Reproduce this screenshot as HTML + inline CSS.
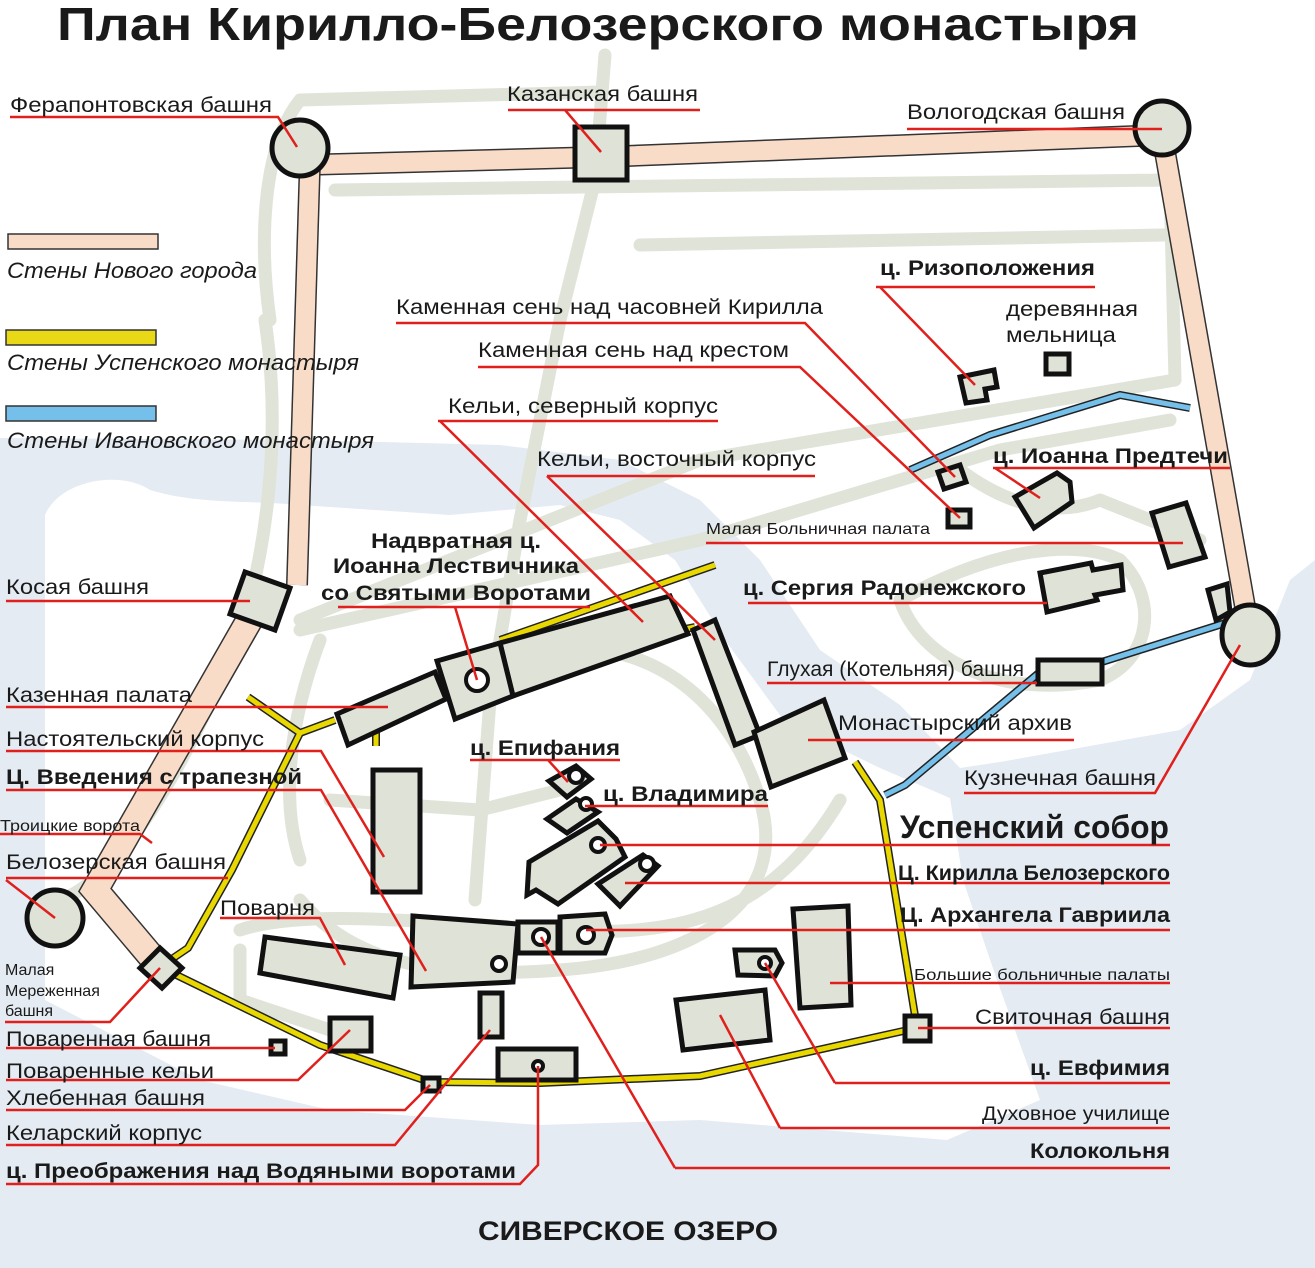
<!DOCTYPE html>
<html><head><meta charset="utf-8"><style>
html,body{margin:0;padding:0;background:#fff;}
svg{display:block;}
text{font-family:"Liberation Sans",sans-serif;fill:#1a1a1a;}
.b{font-weight:bold;}
.i{font-style:italic;}
.r{stroke:#e0201c;stroke-width:2.5;fill:none;}
.bd{fill:#dfe2d6;stroke:#111;stroke-width:5;stroke-linejoin:miter;}
.rd{fill:none;stroke:#dfe3d8;stroke-width:13;stroke-linecap:round;stroke-linejoin:round;}
</style></head><body>
<svg width="1315" height="1268" viewBox="0 0 1315 1268" xmlns="http://www.w3.org/2000/svg">
<!-- water -->
<rect x="0" y="0" width="1315" height="1268" fill="#e4ebf3"/>
<g fill="#fff">
<path d="M0,0 L1315,0 L1315,560 L1290,580 L1250,680 L1180,730 L1000,762 L960,768 L900,705 L820,650 L760,560 L700,500 L620,460 L500,445 L300,440 L0,438 Z"/>
<path d="M45,515 C60,480 120,470 150,490 C200,505 250,500 300,505 L450,515 L560,505 L620,520 L675,560 L725,640 L785,722 L880,768 L950,798 L963,880 L997,980 L1040,1100 L947,1140 L700,1120 L540,1125 L330,1110 L200,1080 L45,1000 Z"/>
</g>
<!-- roads -->
<g class="rd">
<path d="M605,55 L595,180 L560,320 L520,520 L490,700 L475,900"/>
<path d="M270,320 C260,250 260,150 300,100 L600,92"/>
<path d="M265,320 C280,420 270,520 250,600 C200,750 120,880 60,900"/>
<path d="M335,190 L1170,180 L1175,380 L700,460 L300,620"/>
<path d="M640,245 L1165,235"/>
<path d="M300,630 L700,540 L1000,450 L1170,420"/>
<path d="M320,640 C290,720 280,800 300,860"/>
<path d="M560,650 C650,640 730,700 760,800 C790,900 700,960 560,970 C430,980 350,960 300,900"/>
<path d="M240,930 C300,910 400,920 560,930 C700,940 780,900 840,800"/>
<path d="M900,600 C920,660 1000,700 1100,680 C1150,660 1160,600 1120,560 C1080,540 1000,545 900,600"/>
<path d="M330,800 L480,810 L560,790"/>
<path d="M240,950 L240,1000 L330,1030"/>
<path d="M960,470 C1000,500 1050,520 1100,500 L1200,540"/>
</g>
<!-- pink walls -->
<g stroke-linejoin="miter" fill="none">
<path d="M300,165 L601,157 L1162,135 L1250,635" stroke="#333" stroke-width="22"/>
<path d="M300,165 L601,157 L1162,135 L1250,635" stroke="#f9dcc8" stroke-width="19"/>
<path d="M310,160 L297,585" stroke="#333" stroke-width="22"/>
<path d="M310,160 L297,585" stroke="#f9dcc8" stroke-width="19"/>
<path d="M262,598 L95,890 L160,967" stroke="#333" stroke-width="28"/>
<path d="M262,598 L95,890 L160,967" stroke="#f9dcc8" stroke-width="25"/>
</g>
<!-- yellow walls -->
<g fill="none" stroke-linejoin="miter">
<g stroke="#222" stroke-width="8">
<path d="M715,565 L500,640"/>
<path d="M248,697 L300,733 L335,720"/>
<path d="M300,733 L232,870 L188,948 L160,967"/>
<path d="M160,967 L320,1045 L430,1082 L540,1083 L700,1076 L917,1028 L880,800 L855,762"/>
<path d="M376,732 L376,746"/>
<path d="M680,630 L695,627"/>
</g>
<g stroke="#e8d800" stroke-width="5">
<path d="M715,565 L500,640"/>
<path d="M248,697 L300,733 L335,720"/>
<path d="M300,733 L232,870 L188,948 L160,967"/>
<path d="M160,967 L320,1045 L430,1082 L540,1083 L700,1076 L917,1028 L880,800 L855,762"/>
<path d="M376,732 L376,746"/>
<path d="M680,630 L695,627"/>
</g>
</g>
<!-- blue walls -->
<g fill="none">
<g stroke="#222" stroke-width="8">
<path d="M910,470 L990,435 L1120,395 L1190,408"/>
<path d="M1070,672 L1235,620"/>
<path d="M885,795 L905,785 L1040,672"/>
</g>
<g stroke="#74c0ea" stroke-width="5">
<path d="M910,470 L990,435 L1120,395 L1190,408"/>
<path d="M1070,672 L1235,620"/>
<path d="M885,795 L905,785 L1040,672"/>
</g>
</g>
<!-- towers -->
<g class="bd">
<circle cx="300" cy="148" r="28"/>
<circle cx="1162" cy="128" r="27"/>
<ellipse cx="1250" cy="635" rx="28" ry="30"/>
<circle cx="55" cy="918" r="28"/>
<rect x="575" y="127" width="52" height="53"/>
<polygon points="245,572 290,588 275,630 230,614"/>
<polygon points="160,948 182,968 162,988 140,968"/>
<rect x="271" y="1041" width="14" height="13"/>
<rect x="423" y="1078" width="16" height="13"/>
<rect x="905" y="1016" width="25" height="25"/>
<!-- buildings -->
<polygon points="500,643 670,596 688,634 513,696"/>
<polygon points="437,661 500,643 513,696 455,719"/>
<polygon points="337,714 435,672 446,699 348,745"/>
<rect x="373" y="770" width="47" height="122"/>
<polygon points="265,937 400,955 393,998 260,973"/>
<polygon points="413,916 518,924 513,982 411,987"/>
<rect x="518" y="922" width="40" height="31"/>
<polygon points="560,917 605,914 612,935 605,953 560,953"/>
<rect x="480" y="993" width="22" height="44"/>
<rect x="330" y="1018" width="41" height="33"/>
<rect x="498" y="1049" width="78" height="31"/>
<polygon points="693,630 715,620 760,735 735,745"/>
<polygon points="754,732 824,700 845,758 771,787"/>
<rect x="1038" y="660" width="64" height="24"/>
<polygon points="1040,573 1091,563 1093,570 1121,565 1123,590 1095,595 1097,600 1047,612"/>
<polygon points="1152,513 1186,503 1205,557 1169,567"/>
<polygon points="1208,590 1227,584 1230,612 1216,620"/>
<polygon points="1015,497 1057,473 1070,482 1072,502 1034,528"/>
<rect x="948" y="510" width="22" height="17"/>
<polygon points="938,472 960,465 966,482 944,489"/>
<polygon points="960,377 994,370 997,387 985,389 987,400 966,403"/>
<rect x="1046" y="354" width="23" height="20"/>
<polygon points="549,781 576,766 591,779 567,797"/>
<polygon points="547,819 576,799 598,812 567,833"/>
<polygon points="529,862 598,821 616,839 625,857 558,904 536,890 527,895"/>
<polygon points="598,884 643,855 658,866 620,906"/>
<polygon points="793,909 848,906 851,1005 800,1008"/>
<polygon points="735,950 775,950 782,963 775,976 738,975"/>
<polygon points="676,1000 765,990 770,1040 683,1050"/>
</g>
<g fill="#fff" stroke="#111" stroke-width="4">
<circle cx="477" cy="680" r="11"/>
<circle cx="541" cy="937" r="8"/>
<circle cx="586" cy="935" r="8"/>
<circle cx="538" cy="1066" r="5"/>
<circle cx="576" cy="776" r="7"/>
<circle cx="586" cy="804" r="6"/>
<circle cx="598" cy="845" r="7"/>
<circle cx="647" cy="864" r="7"/>
<circle cx="765" cy="963" r="6"/>
<circle cx="499" cy="964" r="7"/>
</g>
<!-- legend -->
<rect x="8" y="234" width="150" height="15" fill="#f9dcc8" stroke="#333" stroke-width="1.5"/>
<rect x="6" y="330" width="150" height="15" fill="#e8d816" stroke="#333" stroke-width="1.5"/>
<rect x="6" y="406" width="150" height="15" fill="#74c0ea" stroke="#333" stroke-width="1.5"/>
<g class="i" font-size="22">
<text x="7" y="278" textLength="250" lengthAdjust="spacingAndGlyphs">Стены Нового города</text>
<text x="7" y="370" textLength="352" lengthAdjust="spacingAndGlyphs">Стены Успенского монастыря</text>
<text x="7" y="448" textLength="367" lengthAdjust="spacingAndGlyphs">Стены Ивановского монастыря</text>
</g>
<!-- leader lines -->
<g class="r">
<path d="M10,117 L278,117 L297,147"/>
<path d="M508,110 L700,110 M565,110 L601,152"/>
<path d="M907,129 L1162,129"/>
<path d="M876,287 L1095,287 M880,287 L975,385"/>
<path d="M396,323 L805,323 L955,477"/>
<path d="M478,367 L800,367 L960,518"/>
<path d="M438,421 L718,421 M440,421 L643,622"/>
<path d="M547,476 L815,476 M547,476 L715,640"/>
<path d="M993,468 L1230,468 M995,468 L1040,498"/>
<path d="M706,543 L1183,543"/>
<path d="M338,607 L590,607 M455,607 L477,680"/>
<path d="M748,603 L1047,603"/>
<path d="M6,601 L250,601"/>
<path d="M767,683 L1037,683"/>
<path d="M6,707 L388,707"/>
<path d="M808,740 L1074,740"/>
<path d="M6,751 L321,751 L384,857"/>
<path d="M470,760 L620,760 M548,760 L568,782"/>
<path d="M6,790 L321,790 L426,971"/>
<path d="M964,793 L1155,793 L1240,645"/>
<path d="M585,806 L768,806"/>
<path d="M600,845 L1170,845"/>
<path d="M0,834 L140,834 L152,843"/>
<path d="M625,883 L1170,883"/>
<path d="M6,878 L228,878 M6,880 L55,918"/>
<path d="M220,918 L320,918 L345,965"/>
<path d="M586,930 L1170,930"/>
<path d="M5,1022 L110,1022 L160,968"/>
<path d="M830,983 L1170,983"/>
<path d="M918,1028 L1170,1028"/>
<path d="M6,1048 L275,1048"/>
<path d="M6,1080 L298,1080 L350,1030"/>
<path d="M835,1083 L1170,1083 M835,1083 L765,963"/>
<path d="M6,1110 L405,1110 L430,1085"/>
<path d="M780,1128 L1170,1128 M780,1128 L720,1015"/>
<path d="M6,1145 L395,1145 L490,1030"/>
<path d="M675,1168 L1170,1168 M675,1168 L541,937"/>
<path d="M6,1184 L520,1184 L538,1165 L538,1066"/>
</g>
<!-- labels -->
<text x="57" y="40" class="b" font-size="46" textLength="1082" lengthAdjust="spacingAndGlyphs">План Кирилло-Белозерского монастыря</text>
<g font-size="21">
<text x="10" y="112" textLength="262" lengthAdjust="spacingAndGlyphs">Ферапонтовская башня</text>
<text x="507" y="101" textLength="191" lengthAdjust="spacingAndGlyphs">Казанская башня</text>
<text x="907" y="119" textLength="218" lengthAdjust="spacingAndGlyphs">Вологодская башня</text>
<text x="1006" y="316" textLength="132" lengthAdjust="spacingAndGlyphs">деревянная</text>
<text x="1006" y="342" textLength="110" lengthAdjust="spacingAndGlyphs">мельница</text>
<text x="396" y="314" textLength="427" lengthAdjust="spacingAndGlyphs">Каменная сень над часовней Кирилла</text>
<text x="478" y="357" textLength="311" lengthAdjust="spacingAndGlyphs">Каменная сень над крестом</text>
<text x="448" y="413" textLength="270" lengthAdjust="spacingAndGlyphs">Кельи, северный корпус</text>
<text x="537" y="466" textLength="279" lengthAdjust="spacingAndGlyphs">Кельи, восточный корпус</text>
<text x="6" y="594" textLength="143" lengthAdjust="spacingAndGlyphs">Косая башня</text>
<text x="767" y="676" textLength="257" lengthAdjust="spacingAndGlyphs">Глухая (Котельняя) башня</text>
<text x="6" y="702" textLength="186" lengthAdjust="spacingAndGlyphs">Казенная палата</text>
<text x="838" y="730" textLength="234" lengthAdjust="spacingAndGlyphs">Монастырский архив</text>
<text x="6" y="746" textLength="258" lengthAdjust="spacingAndGlyphs">Настоятельский корпус</text>
<text x="964" y="785" textLength="192" lengthAdjust="spacingAndGlyphs">Кузнечная башня</text>
<text x="6" y="869" textLength="220" lengthAdjust="spacingAndGlyphs">Белозерская башня</text>
<text x="220" y="915" textLength="95" lengthAdjust="spacingAndGlyphs">Поварня</text>
<text x="975" y="1024" textLength="195" lengthAdjust="spacingAndGlyphs">Свиточная башня</text>
<text x="6" y="1046" textLength="205" lengthAdjust="spacingAndGlyphs">Поваренная башня</text>
<text x="6" y="1078" textLength="208" lengthAdjust="spacingAndGlyphs">Поваренные кельи</text>
<text x="6" y="1105" textLength="199" lengthAdjust="spacingAndGlyphs">Хлебенная башня</text>
<text x="6" y="1140" textLength="196" lengthAdjust="spacingAndGlyphs">Келарский корпус</text>
</g>
<g font-size="16">
<text x="706" y="534" textLength="224" lengthAdjust="spacingAndGlyphs">Малая Больничная палата</text>
<text x="0" y="831" textLength="140" lengthAdjust="spacingAndGlyphs">Троицкие ворота</text>
<text x="5" y="975">Малая</text>
<text x="5" y="996">Мереженная</text>
<text x="5" y="1016">башня</text>
<text x="914" y="980" textLength="256" lengthAdjust="spacingAndGlyphs">Большие больничные палаты</text>
<text x="982" y="1120" font-size="19" textLength="188" lengthAdjust="spacingAndGlyphs">Духовное училище</text>
</g>
<g class="b" font-size="21">
<text x="880" y="275" textLength="215" lengthAdjust="spacingAndGlyphs">ц. Ризоположения</text>
<text x="993" y="463" textLength="235" lengthAdjust="spacingAndGlyphs">ц. Иоанна Предтечи</text>
<text x="371" y="548" textLength="170" lengthAdjust="spacingAndGlyphs">Надвратная ц.</text>
<text x="333" y="573" textLength="246" lengthAdjust="spacingAndGlyphs">Иоанна Лествичника</text>
<text x="321" y="600" textLength="270" lengthAdjust="spacingAndGlyphs">со Святыми Воротами</text>
<text x="743" y="595" textLength="283" lengthAdjust="spacingAndGlyphs">ц. Сергия Радонежского</text>
<text x="470" y="755" textLength="150" lengthAdjust="spacingAndGlyphs">ц. Епифания</text>
<text x="6" y="784" textLength="296" lengthAdjust="spacingAndGlyphs">Ц. Введения с трапезной</text>
<text x="603" y="801" textLength="165" lengthAdjust="spacingAndGlyphs">ц. Владимира</text>
<text x="900" y="838" font-size="32" textLength="269" lengthAdjust="spacingAndGlyphs">Успенский собор</text>
<text x="898" y="880" textLength="272" lengthAdjust="spacingAndGlyphs">Ц. Кирилла Белозерского</text>
<text x="900" y="922" textLength="270" lengthAdjust="spacingAndGlyphs">Ц. Архангела Гавриила</text>
<text x="1030" y="1075" textLength="140" lengthAdjust="spacingAndGlyphs">ц. Евфимия</text>
<text x="1030" y="1158" textLength="140" lengthAdjust="spacingAndGlyphs">Колокольня</text>
<text x="6" y="1178" textLength="510" lengthAdjust="spacingAndGlyphs">ц. Преображения над Водяными воротами</text>
<text x="628" y="1240" font-size="27" text-anchor="middle" textLength="300" lengthAdjust="spacingAndGlyphs">СИВЕРСКОЕ ОЗЕРО</text>
</g>
</svg>
</body></html>
